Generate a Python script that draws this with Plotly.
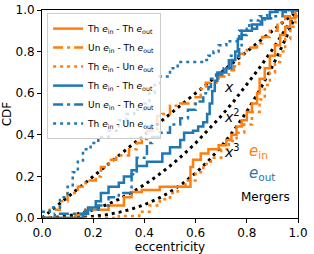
import plotly.graph_objects as go

# ---- data ----
orange_solid_x = [0, 0.13, 0.17, 0.26, 0.32, 0.35, 0.39, 0.46, 0.58, 0.59, 0.62, 0.65, 0.69, 0.72, 0.74, 0.76, 0.78, 0.80, 0.82, 0.84, 0.85, 0.87, 0.89, 0.91, 0.93, 0.95, 0.97, 0.99, 1.0]
orange_solid_y = [0, 0.015, 0.04, 0.06, 0.10, 0.125, 0.135, 0.15, 0.245, 0.28, 0.31, 0.33, 0.35, 0.375, 0.40, 0.44, 0.47, 0.51, 0.55, 0.60, 0.67, 0.72, 0.78, 0.83, 0.88, 0.92, 0.96, 1.0, 1.0]

orange_dashdot_x = [0, 0.03, 0.07, 0.10, 0.14, 0.17, 0.21, 0.23, 0.26, 0.29, 0.34, 0.37, 0.39, 0.41, 0.45, 0.47, 0.50, 0.54, 0.60, 0.62, 0.64, 0.69, 0.73, 0.75, 0.77, 0.80, 0.84, 0.86, 0.89, 0.92, 0.95, 0.98, 1.0]
orange_dashdot_y = [0.0, 0.04, 0.08, 0.12, 0.15, 0.18, 0.20, 0.245, 0.28, 0.30, 0.33, 0.36, 0.38, 0.42, 0.49, 0.50, 0.54, 0.55, 0.58, 0.62, 0.65, 0.68, 0.71, 0.73, 0.79, 0.82, 0.84, 0.87, 0.90, 0.94, 0.97, 1.0, 1.0]

orange_dotted_x = [0, 0.30, 0.38, 0.42, 0.46, 0.50, 0.53, 0.56, 0.60, 0.63, 0.66, 0.70, 0.73, 0.76, 0.79, 0.82, 0.85, 0.87, 0.89, 0.91, 0.93, 0.95, 0.97, 0.99, 1.0]
orange_dotted_y = [0, 0.01, 0.03, 0.06, 0.09, 0.12, 0.15, 0.18, 0.22, 0.26, 0.29, 0.33, 0.37, 0.41, 0.45, 0.51, 0.57, 0.64, 0.70, 0.75, 0.80, 0.86, 0.92, 0.97, 1.0]

blue_solid_x = [0, 0.16, 0.18, 0.21, 0.23, 0.26, 0.30, 0.32, 0.35, 0.37, 0.41, 0.47, 0.50, 0.54, 0.555, 0.59, 0.61, 0.63, 0.645, 0.655, 0.665, 0.675, 0.685, 0.72, 0.74, 0.755, 0.765, 0.78, 0.82, 0.86, 0.89, 0.92, 1.0]
blue_solid_y = [0, 0.02, 0.05, 0.08, 0.12, 0.15, 0.17, 0.20, 0.23, 0.25, 0.27, 0.31, 0.34, 0.375, 0.41, 0.42, 0.44, 0.46, 0.50, 0.55, 0.61, 0.66, 0.70, 0.72, 0.76, 0.80, 0.86, 0.90, 0.93, 0.96, 0.99, 1.0, 1.0]

blue_dashdot_x = [0, 0.05, 0.10, 0.17, 0.22, 0.26, 0.30, 0.35, 0.37, 0.41, 0.43, 0.46, 0.50, 0.54, 0.57, 0.60, 0.63, 0.65, 0.66, 0.68, 0.71, 0.73, 0.77, 0.78, 0.80, 0.84, 0.87, 0.90, 0.94, 1.0]
blue_dashdot_y = [0, 0.02, 0.02, 0.04, 0.06, 0.10, 0.12, 0.21, 0.29, 0.36, 0.39, 0.41, 0.45, 0.48, 0.52, 0.56, 0.60, 0.63, 0.67, 0.69, 0.72, 0.78, 0.83, 0.88, 0.91, 0.94, 0.96, 0.97, 0.99, 1.0]

blue_dotted_x = [0, 0.03, 0.07, 0.10, 0.12, 0.14, 0.16, 0.19, 0.22, 0.26, 0.30, 0.33, 0.36, 0.40, 0.42, 0.44, 0.46, 0.50, 0.53, 0.63, 0.65, 0.67, 0.69, 0.72, 0.77, 0.81, 0.85, 0.88, 0.90, 1.0]
blue_dotted_y = [0.03, 0.05, 0.10, 0.15, 0.22, 0.27, 0.33, 0.36, 0.39, 0.42, 0.47, 0.50, 0.52, 0.55, 0.60, 0.64, 0.68, 0.72, 0.75, 0.76, 0.78, 0.80, 0.83, 0.85, 0.90, 0.95, 0.97, 0.99, 1.0, 1.0]

ref_x = [0.0, 0.05, 0.1, 0.15, 0.2, 0.25, 0.3, 0.35, 0.4, 0.45, 0.5, 0.55, 0.6, 0.65, 0.7, 0.75, 0.8, 0.85, 0.9, 0.95, 1.0]
ref_x1 = [0.0, 0.05, 0.1, 0.15, 0.2, 0.25, 0.3, 0.35, 0.4, 0.45, 0.5, 0.55, 0.6, 0.65, 0.7, 0.75, 0.8, 0.85, 0.9, 0.95, 1.0]
ref_x2 = [0.0, 0.0025, 0.01, 0.0225, 0.04, 0.0625, 0.09, 0.1225, 0.16, 0.2025, 0.25, 0.3025, 0.36, 0.4225, 0.49, 0.5625, 0.64, 0.7225, 0.81, 0.9025, 1.0]
ref_x3 = [0.0, 0.000125, 0.001, 0.003375, 0.008, 0.015625, 0.027, 0.042875, 0.064, 0.091125, 0.125, 0.166375, 0.216, 0.274625, 0.343, 0.421875, 0.512, 0.614125, 0.729, 0.857375, 1.0]

tick_vals = [0.0, 0.2, 0.4, 0.6, 0.8, 1.0]
tick_text = ["0.0", "0.2", "0.4", "0.6", "0.8", "1.0"]

ORANGE = "#ff7f0e"
BLUE = "#1f77b4"
DASHDOT = "10px,4px,3px,4px"
DOT = "3px,4px"

labels = [
    "Th <i>e</i><sub>in</sub> - Th <i>e</i><sub>out</sub>",
    "Un <i>e</i><sub>in</sub> - Th <i>e</i><sub>out</sub>",
    "Th <i>e</i><sub>in</sub> - Un <i>e</i><sub>out</sub>",
]

fig = go.Figure()

# reference black dotted curves (no legend)
for ry in (ref_x1, ref_x2, ref_x3):
    fig.add_trace(go.Scatter(x=ref_x, y=ry, mode="lines", showlegend=False,
                             line=dict(color="black", width=3, dash=DOT), hoverinfo="skip"))

series = [
    (orange_solid_x, orange_solid_y, ORANGE, "solid", labels[0]),
    (orange_dashdot_x, orange_dashdot_y, ORANGE, DASHDOT, labels[1]),
    (orange_dotted_x, orange_dotted_y, ORANGE, DOT, labels[2]),
    (blue_solid_x, blue_solid_y, BLUE, "solid", labels[0]),
    (blue_dashdot_x, blue_dashdot_y, BLUE, DASHDOT, labels[1]),
    (blue_dotted_x, blue_dotted_y, BLUE, DOT, labels[2]),
]
for xs, ys, col, dash, name in series:
    fig.add_trace(go.Scatter(x=xs, y=ys, mode="lines", name=name,
                             line=dict(color=col, width=2.5, dash=dash, shape="hv")))

font = "DejaVu Sans, Liberation Sans, sans-serif"
annos = [
    dict(x=0.705, y=0.63, text="<i>x</i>", color="black", size=14),
    dict(x=0.705, y=0.49, text="<i>x</i><sup>2</sup>", color="black", size=14),
    dict(x=0.705, y=0.32, text="<i>x</i><sup>3</sup>", color="black", size=14),
    dict(x=0.80, y=0.32, text="<i>e</i><sub>in</sub>", color=ORANGE, size=15),
    dict(x=0.80, y=0.215, text="<i>e</i><sub>out</sub>", color=BLUE, size=15),
    dict(x=0.77, y=0.10, text="Mergers", color="black", size=12),
]
for a in annos:
    fig.add_annotation(x=a["x"], y=a["y"], xref="x", yref="y", text=a["text"],
                       showarrow=False, xanchor="left", yanchor="middle",
                       font=dict(color=a["color"], size=a["size"], family=font))

axis_common = dict(range=[0, 1], tickvals=tick_vals, ticktext=tick_text,
                   showgrid=False, zeroline=False, showline=True, mirror=True,
                   linecolor="black", linewidth=1, ticks="outside", ticklen=4,
                   tickcolor="black", automargin=False,
                   tickfont=dict(size=12, family=font, color="black"))

fig.update_layout(
    width=314, height=254,
    margin=dict(l=42, r=16, t=10, b=36),
    paper_bgcolor="white", plot_bgcolor="white",
    font=dict(family=font, color="black"),
    xaxis=dict(title=dict(text="eccentricity", font=dict(size=12), standoff=2), **axis_common),
    yaxis=dict(title=dict(text="CDF", font=dict(size=12), standoff=4), **axis_common),
    legend=dict(x=0.02, y=0.985, xanchor="left", yanchor="top",
                bgcolor="rgba(255,255,255,0.8)", bordercolor="#cccccc", borderwidth=1,
                font=dict(size=9, family=font, color="black"),
                itemwidth=30, tracegroupgap=0),
    showlegend=True,
)

fig.write_html("out.html", config={"displayModeBar": False},
               post_script="document.body.style.margin='0';document.body.style.overflow='hidden';")
